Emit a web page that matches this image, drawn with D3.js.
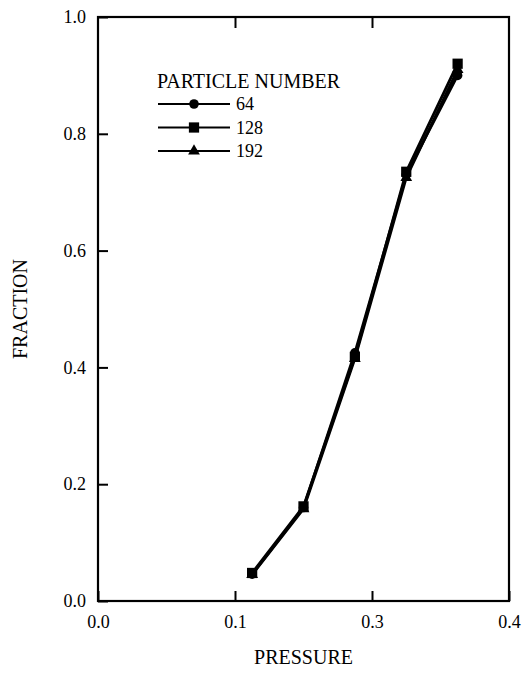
<!DOCTYPE html>
<html>
<head>
<meta charset="utf-8">
<script src="https://cdn.jsdelivr.net/npm/d3@7"></script>
<style>
  body { margin: 0; background: #fff; }
  text { font-family: 'Liberation Serif', 'Times New Roman', serif; fill: #000; }
</style>
</head>
<body>
<div id="chart"></div>
<script>
let width = 524;
let height = 674;
let serif = "'Liberation Serif', 'Times New Roman', serif";

// data
let pressure = [0.15, 0.20, 0.25, 0.30, 0.35];
let frac64 = [0.046, 0.160, 0.425, 0.730, 0.900];
let frac128 = [0.048, 0.162, 0.418, 0.735, 0.920];
let frac192 = [0.045, 0.158, 0.415, 0.725, 0.910];
let seriesNames = ["64", "128", "192"];

// ticks as printed on the original figure
let xTickValues = [0, 0.4 / 3, 0.8 / 3, 0.4];
let xTickLabels = ["0.0", "0.1", "0.3", "0.4"];
let yTickValues = [0, 0.2, 0.4, 0.6, 0.8, 1.0];
let yTickLabels = ["0.0", "0.2", "0.4", "0.6", "0.8", "1.0"];

let plotLeft = 98, plotRight = 509, plotTop = 17, plotBottom = 601;

let svg = d3.select("#chart").append("svg")
    .attr("width", width)
    .attr("height", height);

let x = d3.scaleLinear().domain([0, 0.4]).range([plotLeft, plotRight]);
let y = d3.scaleLinear().domain([0, 1]).range([plotBottom, plotTop]);

// left axis: inward ticks + labels
let yAxis = svg.append("g")
    .attr("transform", "translate(" + plotLeft + ",0)")
    .call(d3.axisLeft(y).tickValues(yTickValues).tickSize(-10).tickPadding(12)
        .tickFormat((d, i) => yTickLabels[i]));
// bottom axis
let xAxis = svg.append("g")
    .attr("transform", "translate(0," + plotBottom + ")")
    .call(d3.axisBottom(x).tickValues(xTickValues).tickSize(-10).tickPadding(14)
        .tickFormat((d, i) => xTickLabels[i]));
// top axis: ticks only
let xTop = svg.append("g")
    .attr("transform", "translate(0," + plotTop + ")")
    .call(d3.axisTop(x).tickValues(xTickValues.slice(1, 3)).tickSize(-11).tickFormat(""));

[yAxis, xAxis, xTop].forEach(g => {
    g.attr("font-family", serif);
    g.select(".domain").remove();
    g.selectAll("line").attr("stroke", "#000").attr("stroke-width", 2);
    g.selectAll("text")
        .style("font-family", serif)
        .style("font-size", "18px")
        .attr("fill", "#000");
});

// frame
svg.append("rect")
    .attr("x", plotLeft).attr("y", plotTop)
    .attr("width", plotRight - plotLeft).attr("height", plotBottom - plotTop)
    .attr("fill", "none")
    .attr("stroke", "#000")
    .attr("stroke-width", 2.2);

// axis titles
svg.append("text")
    .attr("x", x(0.2))
    .attr("y", 664)
    .attr("text-anchor", "middle")
    .style("font-size", "20px")
    .text("PRESSURE");

svg.append("text")
    .attr("transform", "translate(27," + y(0.5) + ") rotate(-90)")
    .attr("text-anchor", "middle")
    .style("font-size", "20px")
    .text("FRACTION");

// series
let series = [
    {name: seriesNames[0], values: frac64, symbol: d3.symbolCircle, size: 72},
    {name: seriesNames[1], values: frac128, symbol: d3.symbolSquare, size: 105},
    {name: seriesNames[2], values: frac192, symbol: d3.symbolTriangle, size: 60}
];

let line = d3.line()
    .x(d => x(d[0]))
    .y(d => y(d[1]));

series.forEach(s => {
    let pts = pressure.map((p, i) => [p, s.values[i]]);
    svg.append("path")
        .datum(pts)
        .attr("d", line)
        .attr("fill", "none")
        .attr("stroke", "#000")
        .attr("stroke-width", 2.8);
    svg.selectAll(null)
        .data(pts)
        .enter()
        .append("path")
        .attr("transform", d => "translate(" + x(d[0]) + "," + y(d[1]) + ")")
        .attr("d", d3.symbol().type(s.symbol).size(s.size))
        .attr("fill", "#000");
});

// legend
let legend = svg.append("g");
legend.append("text")
    .attr("x", 157)
    .attr("y", 88)
    .style("font-size", "20px")
    .text("PARTICLE NUMBER");

series.forEach((s, i) => {
    let ly = 104 + i * 23.5;
    legend.append("line")
        .attr("x1", 158).attr("x2", 230)
        .attr("y1", ly).attr("y2", ly)
        .attr("stroke", "#000")
        .attr("stroke-width", 1.8);
    legend.append("path")
        .attr("transform", "translate(194," + ly + ")")
        .attr("d", d3.symbol().type(s.symbol).size(s.size))
        .attr("fill", "#000");
    legend.append("text")
        .attr("x", 236)
        .attr("y", ly + 6)
        .style("font-size", "18px")
        .text(s.name);
});
</script>
</body>
</html>
